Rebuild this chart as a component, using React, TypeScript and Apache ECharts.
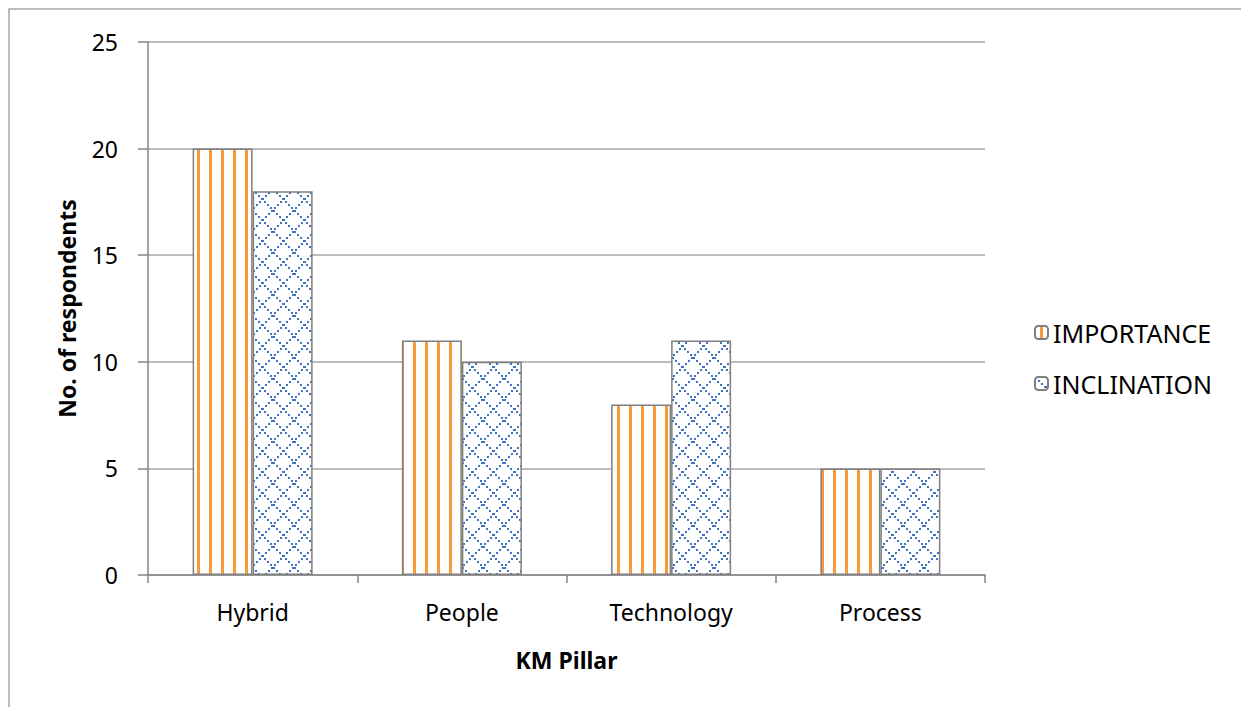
import React, { useEffect, useRef } from "react";
import * as echarts from "echarts";

const categories = ["Hybrid", "People", "Technology", "Process"];
const importance = [20, 11, 8, 5];
const inclination = [18, 10, 11, 5];
const seriesNames = ["IMPORTANCE", "INCLINATION"];

function stripePattern() {
  const c = document.createElement("canvas");
  c.width = 12;
  c.height = 12;
  const ctx = c.getContext("2d")!;
  ctx.fillStyle = "#ffffff";
  ctx.fillRect(0, 0, 12, 12);
  ctx.fillStyle = "#F89A3C";
  ctx.fillRect(5, 0, 3, 12);
  return { image: c, repeat: "repeat", imageWidth: 12, imageHeight: 12 } as any;
}

function diamondPattern() {
  const s = 21;
  const c = document.createElement("canvas");
  c.width = s;
  c.height = s;
  const ctx = c.getContext("2d")!;
  ctx.fillStyle = "#ffffff";
  ctx.fillRect(0, 0, s, s);
  ctx.fillStyle = "#3F74C2";
  for (let i = 0; i < s; i += 3) {
    ctx.fillRect(i, i, 2, 2);
    ctx.fillRect(s - 2 - i, i, 2, 2);
  }
  return { image: c, repeat: "repeat", imageWidth: s, imageHeight: s } as any;
}

export default function App() {
  const ref = useRef<HTMLDivElement>(null);
  useEffect(() => {
    if (!ref.current) return;
    const chart = echarts.init(ref.current, null, { renderer: "svg" });
    const font = "'Noto Sans', 'Open Sans', sans-serif";
    chart.setOption({
      animation: false,
      backgroundColor: "#ffffff",
      textStyle: { fontFamily: font },
      graphic: [
        {
          type: "rect",
          shape: { x: 9, y: 9, width: 1300, height: 800 },
          style: { fill: "none", stroke: "#A6A6A6", lineWidth: 1.5 },
          silent: true,
        },
      ],
      grid: { left: 148, right: 256, top: 42, bottom: 132, containLabel: false },
      legend: {
        orient: "vertical",
        left: 1029,
        top: 315,
        itemGap: 26,
        itemWidth: 13,
        itemHeight: 13,
        data: seriesNames,
        textStyle: { fontSize: 25, color: "#000", fontFamily: font },
      },
      xAxis: {
        type: "category",
        data: categories,
        name: "KM Pillar",
        nameLocation: "middle",
        nameGap: 73,
        nameTextStyle: { fontSize: 23, fontWeight: "bold", color: "#000", fontFamily: font },
        axisLine: { lineStyle: { color: "#868686", width: 1.5 } },
        axisTick: { show: true, length: 8, lineStyle: { color: "#868686", width: 1.5 } },
        axisLabel: { fontSize: 23, color: "#000", margin: 25, fontFamily: font },
      },
      yAxis: {
        type: "value",
        min: 0,
        max: 25,
        interval: 5,
        name: "No. of respondents",
        nameLocation: "middle",
        nameGap: 70,
        nameTextStyle: { fontSize: 23, fontWeight: "bold", color: "#000", fontFamily: font },
        axisLine: { show: true, lineStyle: { color: "#868686", width: 1.5 } },
        axisTick: { show: true, length: 10, lineStyle: { color: "#868686", width: 1.5 } },
        axisLabel: { fontSize: 23, color: "#000", margin: 30, fontFamily: font },
        splitLine: { lineStyle: { color: "#A6A6A6", width: 1.5 } },
      },
      series: [
        {
          name: seriesNames[0],
          type: "bar",
          data: importance,
          barWidth: 60,
          barGap: "0%",
          itemStyle: { color: stripePattern(), borderColor: "#7F7F7F", borderWidth: 1.5 },
        },
        {
          name: seriesNames[1],
          type: "bar",
          data: inclination,
          barWidth: 60,
          barGap: "0%",
          itemStyle: { color: diamondPattern(), borderColor: "#7F7F7F", borderWidth: 1.5 },
        },
      ],
    });
    return () => chart.dispose();
  }, []);
  return <div ref={ref} style={{ width: 1241, height: 707, position: "absolute", left: 0, top: 0 }} />;
}
